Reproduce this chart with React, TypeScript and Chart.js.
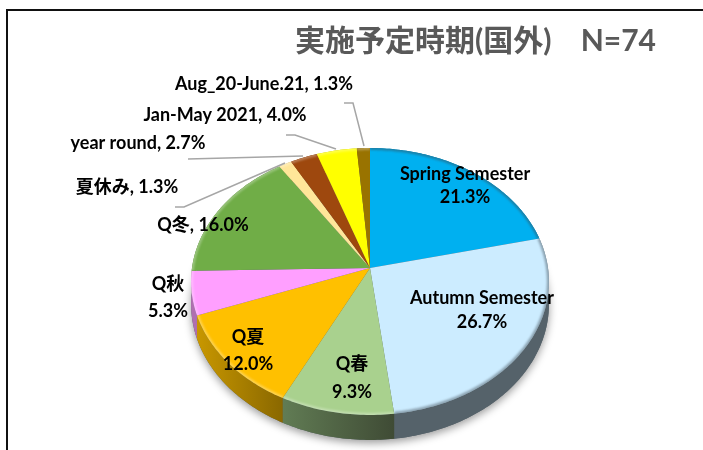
import React, { useEffect, useRef } from "react";
import { Chart, registerables } from "chart.js";

Chart.register(...registerables);

const categories = ["Spring Semester", "Autumn Semester", "Q春", "Q夏", "Q秋", "Q冬", "夏休み", "year round", "Jan-May 2021", "Aug_20-June.21"];
const percents = [21.3, 26.7, 9.3, 12.0, 5.3, 16.0, 1.3, 2.7, 4.0, 1.3];
const colors = ["#00B0F0", "#CCECFF", "#A9D18E", "#FFC000", "#FF9FFF", "#70AD47", "#FFE699", "#9E480E", "#FFFF00", "#997300"];
const wallStart = ["#007AA6", "#55626A", "#617C54", "#C89700", "#B06FB0", "#4E7831", "#B3A06A", "#6E320A", "#B3B300", "#6B5000"];
const wallEnd = ["#007AA6", "#55626A", "#3F4B35", "#8A6800", "#B06FB0", "#4E7831", "#B3A06A", "#6E320A", "#B3B300", "#6B5000"];
const titleText = "実施予定時期(国外)    N=74";

const FONT = "Lato, 'Noto Sans CJK JP', sans-serif";
const LABEL_FONT = `bold 18px ${FONT}`;

// label centres, [x, y] for the first line; twoLine labels put the percent on a second line
const labelPlace = [
  { x: 465, y: 174, gap: 23 },
  { x: 482, y: 298, gap: 24 },
  { x: 352, y: 364, gap: 28 },
  { x: 248, y: 337, gap: 27 },
  { x: 168, y: 284, gap: 27 },
  { x: 203, y: 225, gap: 0 },
  { x: 127, y: 187, gap: 0 },
  { x: 138, y: 143, gap: 0 },
  { x: 225, y: 115, gap: 0 },
  { x: 264, y: 84, gap: 0 },
];
const leaders = [
  null, null, null, null, null, null,
  [[175, 207], [184, 207], [285, 163]],
  [[188, 159], [303, 156]],
  [[286, 135], [295, 135], [336, 149]],
  [[344, 103], [353, 103], [364, 146]],
];

const TILT_K = 0.1011;
const TILT_Y = 0.742;
const DEPTH = 25;

function project(el: any, theta: number) {
  const v = Math.sin(theta);
  const w = 1 - TILT_K * v;
  return {
    x: el.x + (el.outerRadius * Math.cos(theta)) / w,
    y: el.y + (el.outerRadius * TILT_Y * v) / w,
    d: (DEPTH * (1 - TILT_K)) / w,
  };
}

function rim(el: any) {
  const a0 = el.startAngle;
  const a1 = el.endAngle;
  const n = Math.max(2, Math.ceil(((a1 - a0) * 180) / Math.PI));
  const pts = [];
  for (let i = 0; i <= n; i++) pts.push(project(el, a0 + ((a1 - a0) * i) / n));
  return pts;
}

const piePlugin = {
  id: "tiltedPie",
  beforeDraw(chart: any) {
    const { ctx, width, height } = chart;
    ctx.save();
    ctx.strokeStyle = "#111";
    ctx.lineWidth = 2;
    ctx.beginPath();
    ctx.moveTo(7, height);
    ctx.lineTo(7, 10);
    ctx.lineTo(width, 10);
    ctx.stroke();
    ctx.restore();
  },
  beforeDatasetDraw(chart: any, args: any) {
    const { ctx } = chart;
    const els = args.meta.data.map((e: any) => e.getProps(["x", "y", "startAngle", "endAngle", "outerRadius"], true));
    ctx.save();
    // soft shadow below the whole solid
    ctx.save();
    ctx.shadowColor = "rgba(0,0,0,0.4)";
    ctx.shadowBlur = 9;
    ctx.shadowOffsetY = 3;
    ctx.fillStyle = "#55626A";
    ctx.beginPath();
    els.forEach((el: any) => rim(el).forEach((p) => ctx.lineTo(p.x, p.y + p.d)));
    ctx.closePath();
    ctx.fill();
    ctx.restore();
    // side wall
    els.forEach((el: any, i: number) => {
      const pts = rim(el);
      const xs = pts.map((p) => p.x);
      const g = ctx.createLinearGradient(Math.min(...xs), 0, Math.max(...xs), 0);
      g.addColorStop(0, wallStart[i]);
      g.addColorStop(1, wallEnd[i]);
      ctx.fillStyle = g;
      ctx.beginPath();
      pts.forEach((p) => ctx.lineTo(p.x, p.y));
      [...pts].reverse().forEach((p) => ctx.lineTo(p.x, p.y + p.d));
      ctx.closePath();
      ctx.fill();
    });
    // top surface
    els.forEach((el: any, i: number) => {
      ctx.fillStyle = args.meta.data[i].options.backgroundColor;
      ctx.beginPath();
      ctx.moveTo(el.x, el.y);
      rim(el).forEach((p) => ctx.lineTo(p.x, p.y));
      ctx.closePath();
      ctx.fill();
    });
    // bevel along the front rim
    els.forEach((el: any, i: number) => {
      const pts = rim(el);
      ctx.save();
      ctx.beginPath();
      ctx.moveTo(el.x, el.y);
      pts.forEach((p) => ctx.lineTo(p.x, p.y));
      ctx.closePath();
      ctx.clip();
      ctx.lineWidth = 4;
      ctx.strokeStyle = i === 1 || i === 0 ? "rgba(60,70,80,0.45)" : "rgba(255,255,255,0.3)";
      ctx.filter = "blur(1px)";
      ctx.beginPath();
      pts.forEach((p) => ctx.lineTo(p.x, p.y));
      ctx.stroke();
      ctx.restore();
    });
    ctx.restore();
    return false;
  },
  afterDatasetsDraw(chart: any) {
    const { ctx } = chart;
    ctx.save();
    ctx.strokeStyle = "#A6A6A6";
    ctx.lineWidth = 1.5;
    leaders.forEach((line) => {
      if (!line) return;
      ctx.beginPath();
      line.forEach(([x, y]) => ctx.lineTo(x, y));
      ctx.stroke();
    });
    ctx.fillStyle = "#000";
    ctx.font = LABEL_FONT;
    ctx.textAlign = "center";
    ctx.textBaseline = "middle";
    categories.forEach((c, i) => {
      const pl = labelPlace[i];
      const pct = `${percents[i].toFixed(1)}%`;
      if (pl.gap) {
        ctx.fillText(c, pl.x, pl.y);
        ctx.fillText(pct, pl.x, pl.y + pl.gap);
      } else {
        ctx.fillText(`${c}, ${pct}`, pl.x, pl.y);
      }
    });
    ctx.restore();
  },
};

export default function App() {
  const ref = useRef<HTMLCanvasElement>(null);
  useEffect(() => {
    const chart = new Chart(ref.current!, {
      type: "pie",
      data: {
        labels: categories,
        datasets: [{ data: percents, backgroundColor: colors, borderWidth: 0 }],
      },
      options: {
        responsive: false,
        animation: false,
        layout: { padding: { left: 84, right: 47, top: 0, bottom: 4 } },
        plugins: {
          legend: { display: false },
          tooltip: { enabled: false },
          title: {
            display: true,
            text: titleText,
            align: "end",
            color: "#595959",
            font: { family: FONT, size: 30, weight: "bold", lineHeight: 1.2 },
            padding: { top: 23, bottom: 31 },
          },
        },
      },
      plugins: [piePlugin],
    } as any);
    return () => chart.destroy();
  }, []);
  return (
    <div style={{ position: "fixed", left: 0, top: 0, width: 703, height: 450, background: "#fff" }}>
      <canvas ref={ref} width={703} height={450} style={{ display: "block" }} />
    </div>
  );
}
